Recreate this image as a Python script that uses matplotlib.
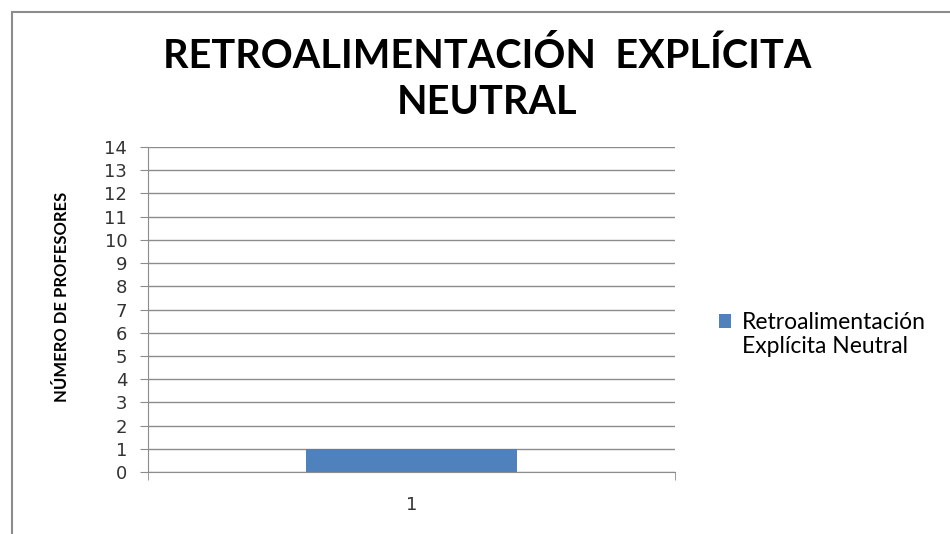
import matplotlib.pyplot as plt
from matplotlib.patches import Rectangle
from matplotlib.legend_handler import HandlerPatch

# datos del gráfico
categorias = [1]
valores = [1]
serie = 'Retroalimentación\nExplícita Neutral'
titulo = 'RETROALIMENTACIÓN  EXPLÍCITA\nNEUTRAL'
etiqueta_y = 'NÚMERO DE PROFESORES'
ticks_y = list(range(0, 15))

fig = plt.figure(figsize=(9.5, 5.34), dpi=100)
ax = fig.add_axes([148 / 950, 1 - 472 / 534, 527 / 950, 325 / 534])

# marco exterior del gráfico
fig.patches.append(Rectangle((12 / 950, -0.1), 1.2, 1 - 12 / 534 + 0.1,
                             transform=fig.transFigure, fill=False,
                             edgecolor='#8c8c8c', lw=1.5))

barras = ax.bar(categorias, valores, width=0.4, color='#4f81bd', label=serie, zorder=3)

ax.set_xlim(0.5, 1.5)
ax.set_ylim(0, 14)
ax.set_yticks(ticks_y)
ax.set_xticks(categorias)
ax.set_xticks([0.5, 1.5], minor=True)
ax.tick_params(axis='x', which='major', length=0, pad=17, labelsize=13, labelcolor='#333333')
ax.tick_params(axis='x', which='minor', length=6, color='#8c8c8c')
ax.tick_params(axis='y', length=6, color='#8c8c8c', labelsize=13, labelcolor='#333333', pad=9)
for lab in ax.get_yticklabels() + ax.get_xticklabels():
    lab.set_family('DejaVu Sans')

ax.grid(axis='y', color='#8c8c8c', lw=1, zorder=0)
ax.set_axisbelow(True)
for s in ['top', 'right']:
    ax.spines[s].set_visible(False)
for s in ['left', 'bottom']:
    ax.spines[s].set_color('#8c8c8c')

fig.text(487 / 950, 1 - 79 / 534, titulo, ha='center', va='center',
         fontsize=28.5, fontweight='bold', family='Lato', linespacing=1.3)
fig.text(62 / 950, 1 - 297 / 534, etiqueta_y, rotation=90, ha='center', va='center',
         fontsize=12, fontweight='bold', family='Lato')


# cuadro de la leyenda alineado con la primera línea del texto
def cuadro_arriba(legend, orig_handle, xdescent, ydescent, width, height, fontsize):
    return Rectangle((-xdescent, -ydescent + 0.6 * fontsize), width, height)


def color_barra(handle, orig):
    handle.update_from(orig.patches[0])


fig.legend(loc='upper left', bbox_to_anchor=(698 / 950, 1 - 291 / 534), frameon=False,
           handlelength=0.55, handleheight=0.55, handletextpad=0.45, labelspacing=0.2,
           prop={'family': 'Lato', 'size': 16.5},
           handler_map={barras: HandlerPatch(patch_func=cuadro_arriba, update_func=color_barra)})

plt.savefig('out.png')
